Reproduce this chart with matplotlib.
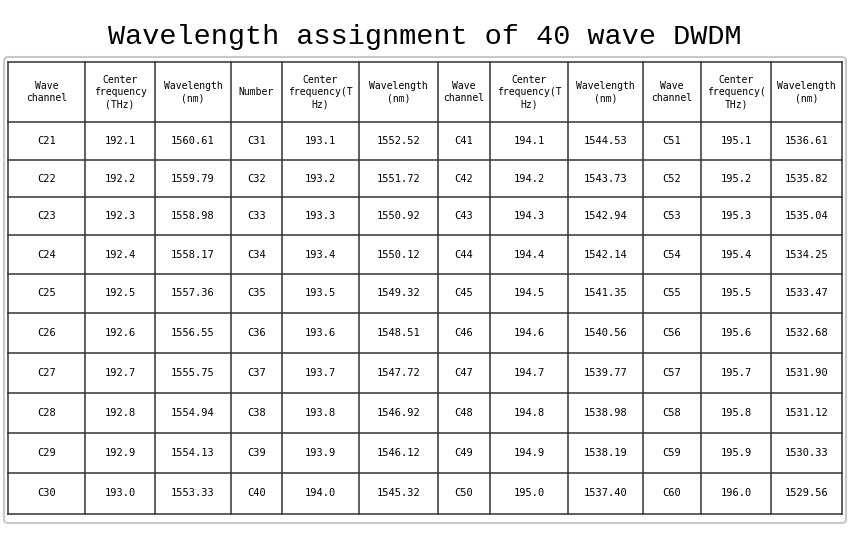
import matplotlib
matplotlib.use("Agg")
import matplotlib.pyplot as plt
from matplotlib.patches import FancyBboxPatch

title = "Wavelength assignment of 40 wave DWDM"
headers = ["Wave\nchannel", "Center\nfrequency\n(THz)", "Wavelength\n(nm)",
           "Number", "Center\nfrequency(T\nHz)", "Wavelength\n(nm)",
           "Wave\nchannel", "Center\nfrequency(T\nHz)", "Wavelength\n(nm)",
           "Wave\nchannel", "Center\nfrequency(\nTHz)", "Wavelength\n(nm)"]
channels = [f"C{i}" for i in range(21, 61)]
frequencies = ["192.1","192.2","192.3","192.4","192.5","192.6","192.7","192.8","192.9","193.0",
               "193.1","193.2","193.3","193.4","193.5","193.6","193.7","193.8","193.9","194.0",
               "194.1","194.2","194.3","194.4","194.5","194.6","194.7","194.8","194.9","195.0",
               "195.1","195.2","195.3","195.4","195.5","195.6","195.7","195.8","195.9","196.0"]
wavelengths = ["1560.61","1559.79","1558.98","1558.17","1557.36","1556.55","1555.75","1554.94","1554.13","1553.33",
               "1552.52","1551.72","1550.92","1550.12","1549.32","1548.51","1547.72","1546.92","1546.12","1545.32",
               "1544.53","1543.73","1542.94","1542.14","1541.35","1540.56","1539.77","1538.98","1538.19","1537.40",
               "1536.61","1535.82","1535.04","1534.25","1533.47","1532.68","1531.90","1531.12","1530.33","1529.56"]

W, H = 850, 536
fig = plt.figure(figsize=(8.5, 5.36), dpi=100)
ax = fig.add_axes([0, 0, 1, 1])
ax.set_xlim(0, W); ax.set_ylim(H, 0); ax.axis("off")

mono = "DejaVu Sans Mono"
ax.text(W/2, 37, title, ha="center", va="center", fontsize=20.5, family="Liberation Mono")

ax.add_patch(FancyBboxPatch((4, 57), 842, 466, boxstyle="round,pad=0,rounding_size=4",
                            fc="white", ec="#c8c8c8", lw=1.5))

xs = [8, 85, 155, 231, 282, 359, 438, 490, 568, 643, 701, 771, 842]
ys = [62, 122, 160, 197, 235, 274, 313, 353, 393, 433, 473, 514]
for x in xs:
    ax.plot([x, x], [ys[0], ys[-1]], color="#333333", lw=1.1)
for y in ys:
    ax.plot([xs[0], xs[-1]], [y, y], color="#333333", lw=1.1)

for c, h in enumerate(headers):
    ax.text((xs[c]+xs[c+1])/2, (ys[0]+ys[1])/2, h, ha="center", va="center",
            fontsize=7, family=mono, linespacing=1.3)

for g in range(4):
    for r in range(10):
        i = g*10 + r
        yc = (ys[r+1]+ys[r+2])/2
        for k, val in enumerate([channels[i], frequencies[i], wavelengths[i]]):
            c = g*3 + k
            ax.text((xs[c]+xs[c+1])/2, yc, val, ha="center", va="center",
                    fontsize=7.5, family=mono)

fig.savefig("out.png", dpi=100)
